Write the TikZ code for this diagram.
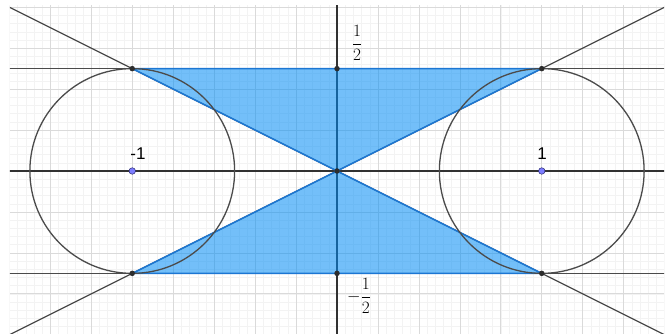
\documentclass[tikz,border=0pt]{standalone}
\usepackage{fontspec}
\newfontfamily\labelfont{Liberation Sans}
\definecolor{minorgridcol}{RGB}{243,243,243}
\definecolor{majorgridcol}{RGB}{218,218,218}
\definecolor{axiscol}{RGB}{50,50,50}
\definecolor{curvecol}{RGB}{75,75,75}
\definecolor{regionfill}{RGB}{0,140,245}
\definecolor{regionedge}{RGB}{28,118,210}
\definecolor{ptcol}{RGB}{45,45,45}
\definecolor{blueptfill}{RGB}{125,125,255}
\definecolor{blueptedge}{RGB}{40,40,110}
\begin{document}
\begin{tikzpicture}[x=204.75pt,y=204.75pt,
  minorgrid/.style={draw=minorgridcol,line width=0.45pt},
  majorgrid/.style={draw=majorgridcol,line width=0.7pt},
  axisline/.style={draw=axiscol,line width=1.1pt},
  curve/.style={draw=curvecol,line width=1.3pt},
  region/.style={fill=regionfill,fill opacity=0.55},
  regionborder/.style={draw=regionedge,line width=1.4pt,line join=round},
  blackpt/.style={circle,fill=ptcol,inner sep=0pt,minimum size=5.5pt},
  bluept/.style={circle,fill=blueptfill,draw=blueptedge,line width=0.5pt,inner sep=0pt,minimum size=6.5pt},
  fraclabel/.style={font=\fontsize{18}{21}\selectfont,inner sep=0pt},
  numlabel/.style={font=\labelfont\fontsize{17}{20}\selectfont,inner sep=0pt}]
\useasboundingbox (-337pt,-163pt) rectangle (334pt,171pt);
\fill[white] (-337pt,-163pt) rectangle (334pt,171pt);

\coordinate (O) at (0,0);
\coordinate (TL) at (-1,0.5);
\coordinate (TR) at (1,0.5);
\coordinate (TM) at (0,0.5);
\coordinate (BL) at (-1,-0.5);
\coordinate (BR) at (1,-0.5);
\coordinate (BM) at (0,-0.5);
\coordinate (CL) at (-1,0);
\coordinate (CR) at (1,0);

\begin{scope}
\clip (-327pt,-163pt) rectangle (327pt,165pt);
\draw[minorgrid] (-1.8,-1) grid[step=0.04] (1.8,1);
\draw[majorgrid] (-1.8,-1) grid[step=0.2] (1.8,1);
\draw[axisline] (-1.8,0) -- (1.8,0);
\draw[axisline] (0,-1) -- (0,1);
\draw[curve] (-1.8,0.5) -- (1.8,0.5);
\draw[curve] (-1.8,-0.5) -- (1.8,-0.5);
\draw[curve] (-1.8,-0.9) -- (1.8,0.9);
\draw[curve] (-1.8,0.9) -- (1.8,-0.9);
\fill[region] (TL) -- (TR) -- (O) -- cycle;
\fill[region] (BL) -- (BR) -- (O) -- cycle;
\draw[regionborder] (TL) -- (TR) -- (O) -- cycle;
\draw[regionborder] (BL) -- (BR) -- (O) -- cycle;
\draw[curve] (CL) circle[radius=0.5];
\draw[curve] (CR) circle[radius=0.5];
\end{scope}

\foreach \p in {TL,TR,TM,BL,BR,BM,O} \node[blackpt] at (\p) {};
\node[bluept] (PL) at (CL) {};
\node[bluept] (PR) at (CR) {};

\node[fraclabel] (half) at (20pt,128pt) {$\displaystyle\frac{1}{2}$};
\node[fraclabel] (mhalf) at (22pt,-125pt) {$\displaystyle-\frac{1}{2}$};
\node[numlabel] (lm1) at (-199pt,17pt) {-1};
\node[numlabel] (l1) at (205pt,17pt) {1};
\end{tikzpicture}
\end{document}
